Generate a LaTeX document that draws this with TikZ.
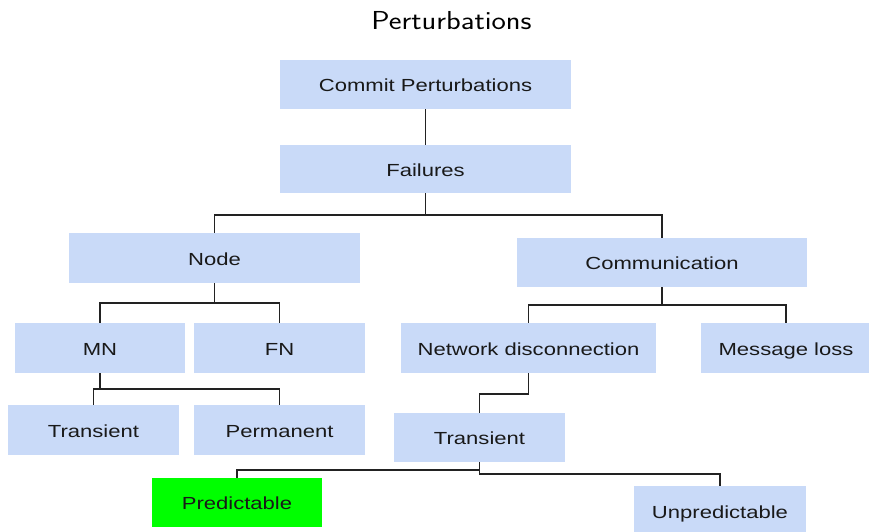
\documentclass[tikz,border=0pt]{standalone}
\usepackage{fontspec}
\usepackage{graphicx}
\setmainfont{Liberation Sans}
\definecolor{boxblue}{HTML}{C9DAF8}
\definecolor{boxgreen}{HTML}{00FF00}
\definecolor{linecol}{HTML}{222222}
\newcommand\bxt[1]{\scalebox{1.26}[1]{#1}}
\tikzset{
  tbox/.style={rectangle, fill=boxblue, draw=none, inner sep=0pt, text=black!90,
    text height=14.5pt, text depth=0pt,
    font=\fontsize{17.5}{20}\selectfont},
  gbox/.style={tbox, fill=boxgreen},
  conn/.style={draw=linecol, line width=1.7pt}
}
\begin{document}
\begin{tikzpicture}[x=1pt,y=-1pt]
\useasboundingbox (0,0) rectangle (869,532);
\fill[white] (0,0) rectangle (869,532);
\node[anchor=base] (title) at (451.5,30) {\sffamily\fontsize{26}{30}\selectfont\scalebox{1.17}[1]{Perturbations}};
\node[tbox, minimum width=291pt, minimum height=49pt] (commit) at (425.5,84.5) {\bxt{Commit Perturbations}};
\node[tbox, minimum width=291pt, minimum height=48pt] (fail) at (425.5,169) {\bxt{Failures}};
\node[tbox, minimum width=291pt, minimum height=50pt] (node) at (214.5,258) {\bxt{Node}};
\node[tbox, minimum width=290pt, minimum height=49pt] (comm) at (662,262.5) {\bxt{Communication}};
\node[tbox, minimum width=170pt, minimum height=50pt] (mn) at (100,348) {\bxt{MN}};
\node[tbox, minimum width=171pt, minimum height=50pt] (fn) at (279.5,348) {\bxt{FN}};
\node[tbox, minimum width=255pt, minimum height=50pt] (nd) at (528.5,348) {\bxt{Network disconnection}};
\node[tbox, minimum width=170pt, minimum height=50pt] (ml) at (786,348) {\bxt{Message loss}};
\node[tbox, minimum width=171pt, minimum height=50pt] (trL) at (93.5,430) {\bxt{Transient}};
\node[tbox, minimum width=171pt, minimum height=50pt] (perm) at (279.5,430) {\bxt{Permanent}};
\node[tbox, minimum width=171pt, minimum height=49pt] (trR) at (479.5,437.5) {\bxt{Transient}};
\node[gbox, minimum width=170pt, minimum height=49pt] (pred) at (237,502.5) {\bxt{Predictable}};
\node[tbox, minimum width=172pt, minimum height=50pt] (unpred) at (720,511) {\bxt{Unpredictable}};

\draw[conn] (commit) -- (fail);
\draw[conn] (fail.south) -- ++(0,22) -| (node.north);
\draw[conn] (fail.south) -- ++(0,22) -| (comm.north);
\draw[conn] (node.south) -- ++(0,20) -| (mn.north);
\draw[conn] (node.south) -- ++(0,20) -| (fn.north);
\draw[conn] (mn.south) -- ++(0,16) -| (trL.north);
\draw[conn] (mn.south) -- ++(0,16) -| (perm.north);
\draw[conn] (comm.south) -- ++(0,18) -| (nd.north);
\draw[conn] (comm.south) -- ++(0,18) -| (ml.north);
\draw[conn] (nd.south) -- ++(0,21) -| (trR.north);
\draw[conn] (trR.south) -- ++(0,8) -| (pred.north);
\draw[conn] (trR.south) -- ++(0,12) -| (unpred.north);
\end{tikzpicture}
\end{document}
